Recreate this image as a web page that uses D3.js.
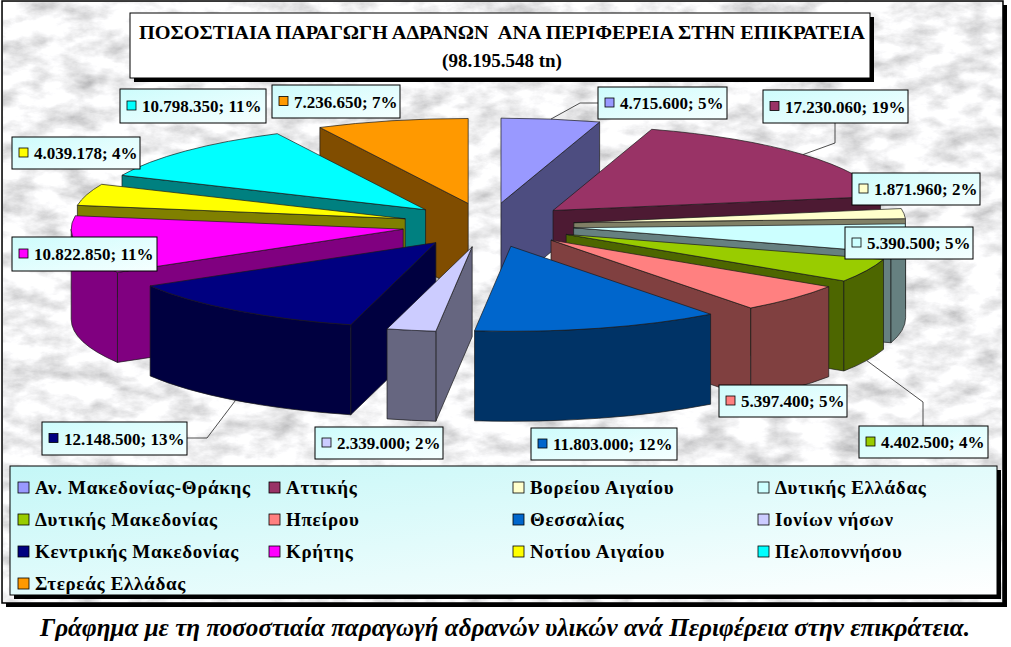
<!DOCTYPE html>
<html><head><meta charset="utf-8">
<script src="https://cdn.jsdelivr.net/npm/d3@7"></script>
<style>body{margin:0;background:#fff}svg{display:block}
.serif{font-family:"Liberation Serif","Tinos","Times New Roman",serif;}</style>
</head><body>
<svg id="chart" width="1011" height="647"></svg>
<script>
// ---------- data ----------
const regions = ["Αν. Μακεδονίας-Θράκης","Αττικής","Βορείου Αιγαίου","Δυτικής Ελλάδας","Δυτικής Μακεδονίας","Ηπείρου","Θεσσαλίας","Ιονίων νήσων","Κεντρικής Μακεδονίας","Κρήτης","Νοτίου Αιγαίου","Πελοποννήσου","Στερεάς Ελλάδας"];
const production = [4715600,17230060,1871960,5390500,4402500,5397400,11803000,2339000,12148500,10822850,4039178,10798350,7236650];
const percentLabels = [5,19,2,5,4,5,12,2,13,11,4,11,7];
const sliceColors = ["#9999FF","#993366","#FFFFCC","#CCFFFF","#99CC00","#FF8080","#0066CC","#CCCCFF","#000080","#FF00FF","#FFFF00","#00FFFF","#FF9900"];
const titleText = "ΠΟΣΟΣΤΙΑΙΑ ΠΑΡΑΓΩΓΗ ΑΔΡΑΝΩΝ  ΑΝΑ ΠΕΡΙΦΕΡΕΙΑ ΣΤΗΝ ΕΠΙΚΡΑΤΕΙΑ";
const unitText = "tn";
const captionText = "Γράφημα με τη ποσοστιαία παραγωγή αδρανών υλικών ανά Περιφέρεια στην επικράτεια.";

// ---------- layout ----------
const geo = {cx:488, cy:225, rx:332, ry:85, depth:90, explode:0.26};
const labelLayout = [
  {x:598,y:87,w:129,h:32, leader:[[598,103],[580,103]], anchor:"top"},
  {x:763,y:90,w:145,h:33, leader:[[835,123],[835,143]], anchor:"top"},
  {x:852,y:173,w:128,h:32},
  {x:845,y:227,w:128,h:32},
  {x:859,y:426,w:129,h:32, leader:[[923,426],[923,402]], anchor:"bottom"},
  {x:719,y:385,w:128,h:32},
  {x:531,y:428,w:146,h:32},
  {x:315,y:427,w:128,h:32},
  {x:42,y:422,w:145,h:33, leader:[[187,438],[207,438]], anchor:"bottom"},
  {x:12,y:237,w:145,h:34},
  {x:12,y:137,w:128,h:32},
  {x:120,y:89,w:146,h:34},
  {x:272,y:85,w:128,h:33}
];
const legendCols = [18,269,513,758];
const legendRows = [488,520,552,584];

const fmt = d3.formatLocale({decimal:",",thousands:".",grouping:[3],currency:["","€"]}).format(",d");
const total = d3.sum(production);

const svg = d3.select("#chart");
const defs = svg.append("defs");

// marble texture
const f = defs.append("filter").attr("id","marble").attr("x",0).attr("y",0).attr("width","100%").attr("height","100%");
f.append("feTurbulence").attr("type","fractalNoise").attr("baseFrequency","0.03 0.055").attr("numOctaves",5).attr("seed",11).attr("result","t");
f.append("feColorMatrix").attr("in","t").attr("type","matrix")
  .attr("values","0.95 0 0 0 0.42  0.95 0 0 0 0.42  0.95 0 0 0 0.43  0 0 0 0 1");

const lg = defs.append("linearGradient").attr("id","labelGrad").attr("x1",0).attr("y1",0).attr("x2",1).attr("y2",1);
lg.append("stop").attr("offset","0%").attr("stop-color","#cdfcfc");
lg.append("stop").attr("offset","100%").attr("stop-color","#f6ffff");
const lg2 = defs.append("linearGradient").attr("id","legendGrad").attr("x1",0).attr("y1",0).attr("x2",1).attr("y2",1);
lg2.append("stop").attr("offset","0%").attr("stop-color","#c4f7f7");
lg2.append("stop").attr("offset","100%").attr("stop-color","#ffffff");

// chart frame
svg.append("rect").attr("x",6).attr("y",5).attr("width",1001).attr("height",602).attr("fill","#000");
svg.append("rect").attr("x",2).attr("y",1).attr("width",1001).attr("height",602).attr("fill","#d6d6d6").attr("stroke","#000").attr("stroke-width",1.5);
svg.append("rect").attr("x",3).attr("y",2).attr("width",999).attr("height",600).attr("filter","url(#marble)");

// ---------- pie ----------
const pie = d3.pie().sort(null).value(d=>d).startAngle(0).endAngle(2*Math.PI);
const arcs = pie(production);

function shade(c,k){const r=d3.rgb(c);return d3.rgb(r.r*k,r.g*k,r.b*k).formatHex();}
function P(u,v,bottom){return [geo.cx+geo.rx*u, geo.cy-geo.ry*v+(bottom?geo.depth:0)];}

const faces=[], tops=[];
arcs.forEach((a,i)=>{
  const s=a.startAngle, e=a.endAngle, m=(s+e)/2;
  const ou=geo.explode*Math.sin(m), ov=geo.explode*Math.cos(m);
  const rim=(t,b)=>P(ou+Math.sin(t), ov+Math.cos(t), b);
  const apex=b=>P(ou,ov,b);
  const col=sliceColors[i], dark=shade(col,0.5);
  const large=(e-s)>Math.PI?1:0;
  const A=apex(false), R1=rim(s,false), R2=rim(e,false);
  tops.push({d:`M${A}L${R1}A${geo.rx},${geo.ry} 0 ${large} 1 ${R2}Z`, fill:col});
  [[s,Math.sin(s)<-1e-6],[e,Math.sin(e)>1e-6]].forEach(([t,vis])=>{
    if(!vis) return;
    const p1=rim(t,false), p2=rim(t,true), a2=apex(true);
    faces.push({d:`M${A}L${p1}L${p2}L${a2}Z`, fill:dark, key:ov+0.5*Math.cos(t)});
  });
  const ws=Math.max(s,Math.PI/2), we=Math.min(e,3*Math.PI/2);
  if(we>ws){
    const t1=rim(ws,false), t2=rim(we,false), b2=rim(we,true), b1=rim(ws,true);
    faces.push({d:`M${t1}A${geo.rx},${geo.ry} 0 0 1 ${t2}L${b2}A${geo.rx},${geo.ry} 0 0 0 ${b1}Z`, fill:dark, key:ov+Math.cos((ws+we)/2)});
  }
  a.anchorTop=rim(m,false); a.anchorBottom=rim(m,true);
});
faces.sort((p,q)=>q.key-p.key);
const pg=svg.append("g").attr("stroke","#1a1a1a").attr("stroke-width",0.7).attr("stroke-linejoin","round");
pg.selectAll("path.face").data(faces).join("path").attr("class","face").attr("d",d=>d.d).attr("fill",d=>d.fill);
pg.selectAll("path.top").data(tops).join("path").attr("class","top").attr("d",d=>d.d).attr("fill",d=>d.fill);

// ---------- leaders & labels ----------
const lab=svg.append("g");
arcs.forEach((a,i)=>{
  const L=labelLayout[i];
  if(L.leader){
    const end=L.anchor==="top"?a.anchorTop:a.anchorBottom;
    lab.append("polyline").attr("points",[...L.leader,end].map(p=>p.join(",")).join(" "))
      .attr("fill","none").attr("stroke","#222").attr("stroke-width",0.8);
  }
  const g=lab.append("g").attr("transform",`translate(${L.x},${L.y})`);
  g.append("rect").attr("width",L.w).attr("height",L.h).attr("fill","url(#labelGrad)").attr("stroke","#000").attr("stroke-width",1);
  g.append("rect").attr("x",7).attr("y",L.h/2-5).attr("width",9).attr("height",9).attr("fill",sliceColors[i]).attr("stroke","#000").attr("stroke-width",0.8);
  g.append("text").attr("class","serif").attr("x",22).attr("y",L.h/2+6).style("font-weight","bold").style("font-size","17px")
    .text(`${fmt(production[i])}; ${percentLabels[i]}%`);
});

// ---------- title ----------
svg.append("rect").attr("x",134).attr("y",17).attr("width",740).attr("height",65).attr("fill","#000");
svg.append("rect").attr("x",130).attr("y",13).attr("width",740).attr("height",65).attr("fill","#fff").attr("stroke","#000").attr("stroke-width",1);
svg.append("text").attr("class","serif").attr("x",502).attr("y",39).attr("text-anchor","middle").style("font-weight","bold").style("font-size","19px")
  .attr("textLength",726).attr("lengthAdjust","spacingAndGlyphs").style("white-space","pre").text(titleText);
svg.append("text").attr("class","serif").attr("x",502).attr("y",67).attr("text-anchor","middle").style("font-weight","bold").style("font-size","19px")
  .text(`(${fmt(total)} ${unitText})`);

// ---------- legend ----------
svg.append("rect").attr("x",14).attr("y",470).attr("width",987).attr("height",129).attr("fill","#000");
svg.append("rect").attr("x",10).attr("y",466).attr("width",987).attr("height",129).attr("fill","url(#legendGrad)").attr("stroke","#000").attr("stroke-width",1);
const lgd=svg.append("g");
regions.forEach((r,i)=>{
  const cx=legendCols[i%4], cy=legendRows[Math.floor(i/4)];
  lgd.append("rect").attr("x",cx).attr("y",cy-6).attr("width",11).attr("height",11).attr("fill",sliceColors[i]).attr("stroke","#000").attr("stroke-width",0.8);
  lgd.append("text").attr("class","serif").attr("x",cx+17).attr("y",cy+6).style("font-weight","bold").style("font-size","19px").style("letter-spacing","0.7px").text(r);
});

// ---------- caption ----------
svg.append("text").attr("class","serif").attr("x",505).attr("y",636).attr("text-anchor","middle").style("font-style","italic").style("font-weight","bold").style("font-size","25px")
  .attr("textLength",930).attr("lengthAdjust","spacingAndGlyphs").text(captionText);
</script>
</body></html>
